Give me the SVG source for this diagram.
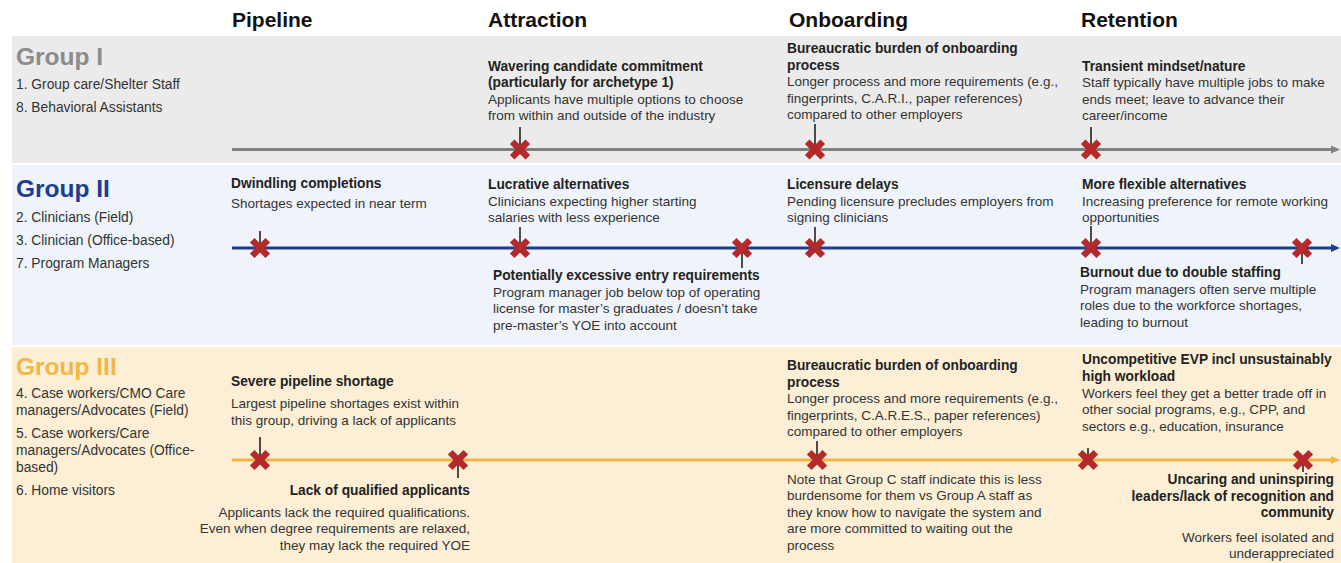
<svg xmlns="http://www.w3.org/2000/svg" width="1341" height="563" viewBox="0 0 1341 563">
<style>
text{font-family:"Liberation Sans",Arial,sans-serif;fill:#222;}
.h{font-size:21px;font-weight:bold;fill:#111;}
.gt{font-size:24.5px;font-weight:bold;}
.li{font-size:13.8px;fill:#333;}
.b{font-size:13.75px;font-weight:bold;}
.t{font-size:13.5px;fill:#333;}
.r{text-anchor:end;}
.tick{stroke:#222;stroke-width:1.6;}
</style>
<defs>
<g id="x"><path d="M-7.8,-7.8L7.8,7.8M-7.8,7.8L7.8,-7.8" stroke="#b5292a" stroke-width="6.5"/></g>
<marker id="a1" markerWidth="9" markerHeight="9" refX="5" refY="4.5" orient="auto" markerUnits="userSpaceOnUse"><path d="M0,0.5L9,4.5L0,8.5z" fill="#808080"/></marker>
<marker id="a2" markerWidth="9" markerHeight="9" refX="5" refY="4.5" orient="auto" markerUnits="userSpaceOnUse"><path d="M0,0.5L9,4.5L0,8.5z" fill="#1f3d8f"/></marker>
<marker id="a3" markerWidth="9" markerHeight="9" refX="5" refY="4.5" orient="auto" markerUnits="userSpaceOnUse"><path d="M0,0.5L9,4.5L0,8.5z" fill="#f2b545"/></marker>
</defs>
<rect x="0" y="0" width="1341" height="563" fill="#fff"/>
<g id="bands">
<rect x="12" y="36" width="1329" height="127" fill="#ebebeb"/>
<rect x="12" y="165" width="1329" height="180" fill="#eff4fa"/>
<rect x="12" y="347" width="1329" height="216" fill="#fcefd6"/>
</g>
<g id="headers">
<text class="h" x="232" y="27">Pipeline</text>
<text class="h" x="488" y="27">Attraction</text>
<text class="h" x="789" y="27">Onboarding</text>
<text class="h" x="1081" y="27">Retention</text>
</g>
<g id="connectors">
<line x1="232" y1="149.5" x2="1336" y2="149.5" stroke="#808080" stroke-width="3" marker-end="url(#a1)"/>
<line x1="232" y1="248" x2="1336" y2="248" stroke="#1f3d8f" stroke-width="3" marker-end="url(#a2)"/>
<line x1="232" y1="460" x2="1336" y2="460" stroke="#f2b545" stroke-width="3" marker-end="url(#a3)"/>
<line class="tick" x1="520" y1="127" x2="520" y2="149"/>
<line class="tick" x1="815" y1="124" x2="815" y2="149"/>
<line class="tick" x1="1091" y1="127" x2="1091" y2="149"/>
<line class="tick" x1="260" y1="231" x2="260" y2="248"/>
<line class="tick" x1="520" y1="227" x2="520" y2="248"/>
<line class="tick" x1="742" y1="248" x2="742" y2="268"/>
<line class="tick" x1="815" y1="227" x2="815" y2="248"/>
<line class="tick" x1="1091" y1="226" x2="1091" y2="248"/>
<line class="tick" x1="1302" y1="248" x2="1302" y2="264"/>
<line class="tick" x1="260" y1="437" x2="260" y2="460"/>
<line class="tick" x1="458" y1="460" x2="458" y2="478"/>
<line class="tick" x1="817" y1="441" x2="817" y2="460"/>
<line class="tick" x1="1088" y1="448" x2="1088" y2="460"/>
<line class="tick" x1="1303" y1="460" x2="1303" y2="472"/>
</g>
<g id="crosses">
<use href="#x" x="520" y="149.5"/>
<use href="#x" x="815" y="149.5"/>
<use href="#x" x="1091" y="149.5"/>
<use href="#x" x="260" y="248"/>
<use href="#x" x="520" y="248"/>
<use href="#x" x="742" y="248"/>
<use href="#x" x="815" y="248"/>
<use href="#x" x="1091" y="248"/>
<use href="#x" x="1302" y="248"/>
<use href="#x" x="260" y="460"/>
<use href="#x" x="458" y="460"/>
<use href="#x" x="817" y="460"/>
<use href="#x" x="1088" y="460"/>
<use href="#x" x="1303" y="460"/>
</g>
<g id="group1">
<text class="gt" x="16" y="65" style="fill:#8c8c8c">Group I</text>
<text class="li" x="16" y="89">1. Group care/Shelter Staff</text>
<text class="li" x="16" y="112">8. Behavioral Assistants</text>
</g>
<g id="g1-attraction">
<text class="b" x="488" y="71">Wavering candidate commitment</text>
<text class="b" x="488" y="87">(particularly for archetype 1)</text>
<text class="t" x="488" y="103.5">Applicants have multiple options to choose</text>
<text class="t" x="488" y="119.5">from within and outside of the industry</text>
</g>
<g id="g1-onboarding">
<text class="b" x="787" y="53">Bureaucratic burden of onboarding</text>
<text class="b" x="787" y="69.5">process</text>
<text class="t" x="787" y="86">Longer process and more requirements (e.g.,</text>
<text class="t" x="787" y="102.5">fingerprints, C.A.R.I., paper references)</text>
<text class="t" x="787" y="119">compared to other employers</text>
</g>
<g id="g1-retention">
<text class="b" x="1082" y="71">Transient mindset/nature</text>
<text class="t" x="1082" y="87">Staff typically have multiple jobs to make</text>
<text class="t" x="1082" y="103.5">ends meet; leave to advance their</text>
<text class="t" x="1082" y="119.5">career/income</text>
</g>
<g id="group2">
<text class="gt" x="16" y="197" style="fill:#1f3d8f">Group II</text>
<text class="li" x="16" y="221.5">2. Clinicians (Field)</text>
<text class="li" x="16" y="244.5">3. Clinician (Office-based)</text>
<text class="li" x="16" y="267.5">7. Program Managers</text>
</g>
<g id="g2-pipeline">
<text class="b" x="231" y="187.5">Dwindling completions</text>
<text class="t" x="231" y="208">Shortages expected in near term</text>
</g>
<g id="g2-attraction">
<text class="b" x="488" y="189">Lucrative alternatives</text>
<text class="t" x="488" y="205.5">Clinicians expecting higher starting</text>
<text class="t" x="488" y="221.5">salaries with less experience</text>
</g>
<g id="g2-entry">
<text class="b" x="493" y="280">Potentially excessive entry requirements</text>
<text class="t" x="493" y="296.5">Program manager job below top of operating</text>
<text class="t" x="493" y="313">license for master’s graduates / doesn’t take</text>
<text class="t" x="493" y="329.5">pre-master’s YOE into account</text>
</g>
<g id="g2-onboarding">
<text class="b" x="787" y="189">Licensure delays</text>
<text class="t" x="787" y="205.5">Pending licensure precludes employers from</text>
<text class="t" x="787" y="221.5">signing clinicians</text>
</g>
<g id="g2-retention">
<text class="b" x="1082" y="189">More flexible alternatives</text>
<text class="t" x="1082" y="205.5">Increasing preference for remote working</text>
<text class="t" x="1082" y="221.5">opportunities</text>
</g>
<g id="g2-burnout">
<text class="b" x="1080" y="277">Burnout due to double staffing</text>
<text class="t" x="1080" y="293.5">Program managers often serve multiple</text>
<text class="t" x="1080" y="310">roles due to the workforce shortages,</text>
<text class="t" x="1080" y="326.5">leading to burnout</text>
</g>
<g id="group3">
<text class="gt" x="16" y="375" style="fill:#f0b848">Group III</text>
<text class="li" x="16" y="397.5">4. Case workers/CMO Care</text>
<text class="li" x="16" y="414.5">managers/Advocates (Field)</text>
<text class="li" x="16" y="437.5">5. Case workers/Care</text>
<text class="li" x="16" y="455">managers/Advocates (Office-</text>
<text class="li" x="16" y="471.5">based)</text>
<text class="li" x="16" y="494.5">6. Home visitors</text>
</g>
<g id="g3-pipeline">
<text class="b" x="231" y="386">Severe pipeline shortage</text>
<text class="t" x="231" y="408">Largest pipeline shortages exist within</text>
<text class="t" x="231" y="424.5">this group, driving a lack of applicants</text>
</g>
<g id="g3-qualified">
<text class="b r" x="470" y="494.5">Lack of qualified applicants</text>
<text class="t r" x="470" y="516.5">Applicants lack the required qualifications.</text>
<text class="t r" x="470" y="533">Even when degree requirements are relaxed,</text>
<text class="t r" x="470" y="549.5">they may lack the required YOE</text>
</g>
<g id="g3-onboarding">
<text class="b" x="787" y="370">Bureaucratic burden of onboarding</text>
<text class="b" x="787" y="386.5">process</text>
<text class="t" x="787" y="403">Longer process and more requirements (e.g.,</text>
<text class="t" x="787" y="419.5">fingerprints, C.A.R.E.S., paper references)</text>
<text class="t" x="787" y="436">compared to other employers</text>
</g>
<g id="g3-note">
<text class="t" x="787" y="483.5">Note that Group C staff indicate this is less</text>
<text class="t" x="787" y="500">burdensome for them vs Group A staff as</text>
<text class="t" x="787" y="516.5">they know how to navigate the system and</text>
<text class="t" x="787" y="533">are more committed to waiting out the</text>
<text class="t" x="787" y="549.5">process</text>
</g>
<g id="g3-evp">
<text class="b" x="1082" y="364">Uncompetitive EVP incl unsustainably</text>
<text class="b" x="1082" y="380.5">high workload</text>
<text class="t" x="1082" y="397.5">Workers feel they get a better trade off in</text>
<text class="t" x="1082" y="414">other social programs, e.g., CPP, and</text>
<text class="t" x="1082" y="430.5">sectors e.g., education, insurance</text>
</g>
<g id="g3-leaders">
<text class="b r" x="1334" y="484">Uncaring and uninspiring</text>
<text class="b r" x="1334" y="500.5">leaders/lack of recognition and</text>
<text class="b r" x="1334" y="517">community</text>
<text class="t r" x="1334" y="541.5">Workers feel isolated and</text>
<text class="t r" x="1334" y="558">underappreciated</text>
</g>
</svg>
